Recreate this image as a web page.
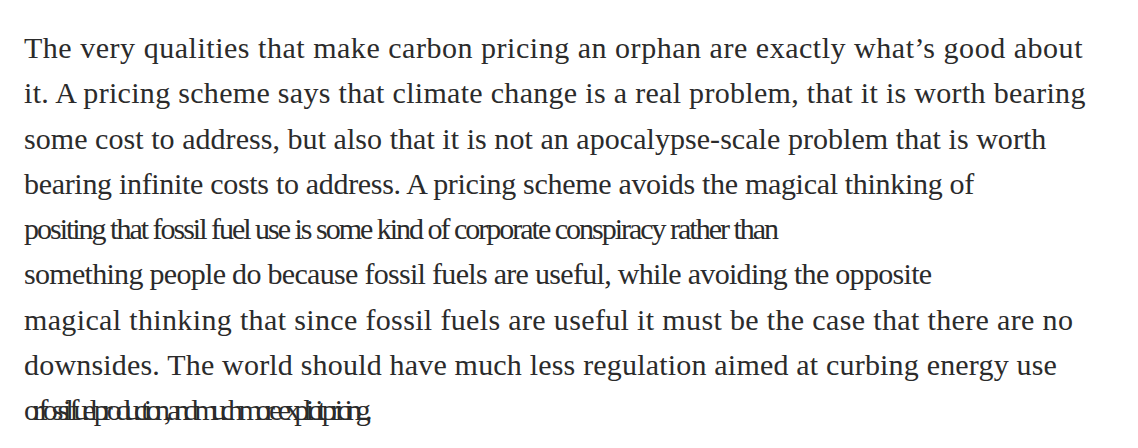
<!DOCTYPE html>
<html>
<head>
<meta charset="utf-8">
<script src="https://cdn.jsdelivr.net/npm/chart.js"></script>
<style>
  html, body { margin: 0; background: #fff; }
  #text {
    position: absolute; left: 24px; top: 25px;
    font-family: "Liberation Serif", serif;
    font-size: 30px; line-height: 45.3px;
    color: #2b2b2b; white-space: nowrap;
  }
</style>
</head>
<body>
<div id="text"></div>
<script>
// paragraph lines, broken as in the reference
const lines = [
  'The very qualities that make carbon pricing an orphan are exactly what\u2019s good about',
  'it. A pricing scheme says that climate change is a real problem, that it is worth bearing',
  'some cost to address, but also that it is not an apocalypse-scale problem that is worth',
  'bearing infinite costs to address. A pricing scheme avoids the magical thinking of',
  'positing that fossil fuel use is some kind of corporate conspiracy rather than',
  'something people do because fossil fuels are useful, while avoiding the opposite',
  'magical thinking that since fossil fuels are useful it must be the case that there are no',
  'downsides. The world should have much less regulation aimed at curbing energy use',
  'or fossil fuel production, and much more explicit pricing.'
]
// right edge of each line in the reference
const rightEdge = [1083, 1110, 1090, 1060, 929, 1030, 1117, 1101, 740]
const box = document.getElementById('text')
lines.forEach((l, i) => {
  const d = document.createElement('div')
  d.textContent = l
  box.appendChild(d)
  const w = d.getBoundingClientRect().width
  d.style.letterSpacing = ((rightEdge[i] - 24 - w) / l.length) + 'px'
})
</script>
</body>
</html>
